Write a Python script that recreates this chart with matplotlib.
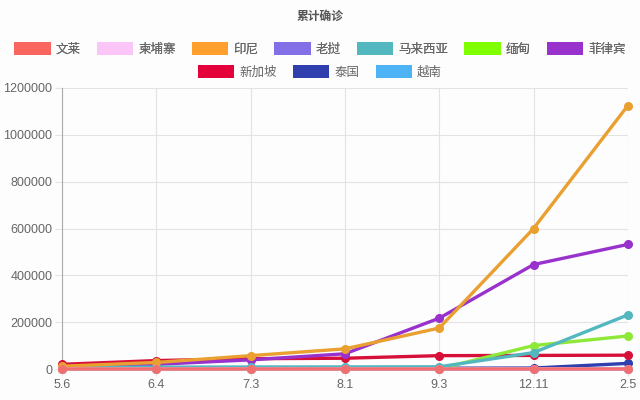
import matplotlib
matplotlib.use("Agg")
import matplotlib.pyplot as plt
from matplotlib.patches import Patch
from matplotlib.ticker import FuncFormatter

plt.rcParams['font.family'] = ['Liberation Sans', 'Noto Sans CJK SC', 'DejaVu Sans']

dates = ["5.6", "6.4", "7.3", "8.1", "9.3", "12.11", "2.5"]
countries = ["文莱", "柬埔寨", "印尼", "老挝", "马来西亚", "缅甸", "菲律宾", "新加坡", "泰国", "越南"]
brunei = [138, 141, 141, 141, 144, 150, 182]
cambodia = [122, 125, 141, 226, 274, 344, 470]
indonesia = [12000, 28000, 57000, 86000, 175000, 600000, 1125000]
laos = [19, 19, 19, 20, 22, 41, 45]
malaysia = [6400, 8000, 8600, 8900, 9400, 70000, 231000]
myanmar = [170, 230, 300, 350, 800, 100000, 141000]
philippines = [10000, 20000, 39000, 65000, 217000, 446000, 532000]
singapore = [20000, 36000, 44000, 46000, 57000, 58000, 59000]
thailand = [2990, 3090, 3180, 3310, 3420, 4100, 24000]
vietnam = [270, 330, 360, 600, 1050, 1370, 1900]
series = [brunei, cambodia, indonesia, laos, malaysia, myanmar, philippines,
          singapore, thailand, vietnam]

box_colors = ["#f8665f", "#fbc6f7", "#ff9f2d", "#8370e6", "#52b7bf", "#7fff00",
              "#9932cc", "#e4003a", "#2f3fae", "#4db3f4"]
line_colors = ["#f07070", "#f7c0f0", "#eaa030", "#8370e6", "#52b7bf", "#8ee838",
               "#9932cc", "#d7103a", "#2f3fae", "#4db3f4"]

fig = plt.figure(figsize=(6.4, 4.0), dpi=100)
fig.patch.set_facecolor("#fdfdfe")
ax = fig.add_axes([0.097, 0.0775, 0.884, 0.7025])
ax.set_facecolor("#fdfdfe")

x = list(range(len(dates)))
n = len(series)
for i, vals in enumerate(series):
    ax.plot(x, vals, color=line_colors[i], lw=2.4, marker="o", ms=5.5,
            zorder=n - i + 2, clip_on=False)

ax.set_xlim(0, len(dates) - 1)
ax.set_ylim(0, 1200000)
ax.set_yticks(range(0, 1200001, 200000))
ax.yaxis.set_major_formatter(FuncFormatter(lambda v, p: "%d" % v))
ax.set_xticks(x)
ax.set_xticklabels(dates)
ax.grid(True, color="#e3e3e6", lw=0.8)
for s in ["top", "right", "bottom"]:
    ax.spines[s].set_visible(False)
ax.spines["left"].set_color("#aaaaaa")
ax.tick_params(axis="both", colors="#e3e3e6", labelcolor="#666666",
               labelsize=9, length=5)
ax.tick_params(axis="x", pad=2)
ax.tick_params(axis="y", pad=2)

fig.text(0.5, 0.958, "累计确诊", ha="center", va="center", fontsize=8.5,
         fontweight="bold", color="#555555")

handles = [Patch(facecolor=c, edgecolor="none") for c in box_colors]
leg1 = fig.legend(handles[:7], countries[:7], loc="center", ncol=7,
                  bbox_to_anchor=(0.5, 0.878), frameon=False, fontsize=9,
                  handlelength=2.9, handleheight=1.25, handletextpad=0.4,
                  columnspacing=1.3, labelcolor="#666666")
fig.add_artist(leg1)
fig.legend(handles[7:], countries[7:], loc="center", ncol=3,
           bbox_to_anchor=(0.5, 0.82), frameon=False, fontsize=9,
           handlelength=2.9, handleheight=1.25, handletextpad=0.4,
           columnspacing=1.3, labelcolor="#666666")

fig.savefig("out.png", dpi=100, facecolor=fig.get_facecolor())
